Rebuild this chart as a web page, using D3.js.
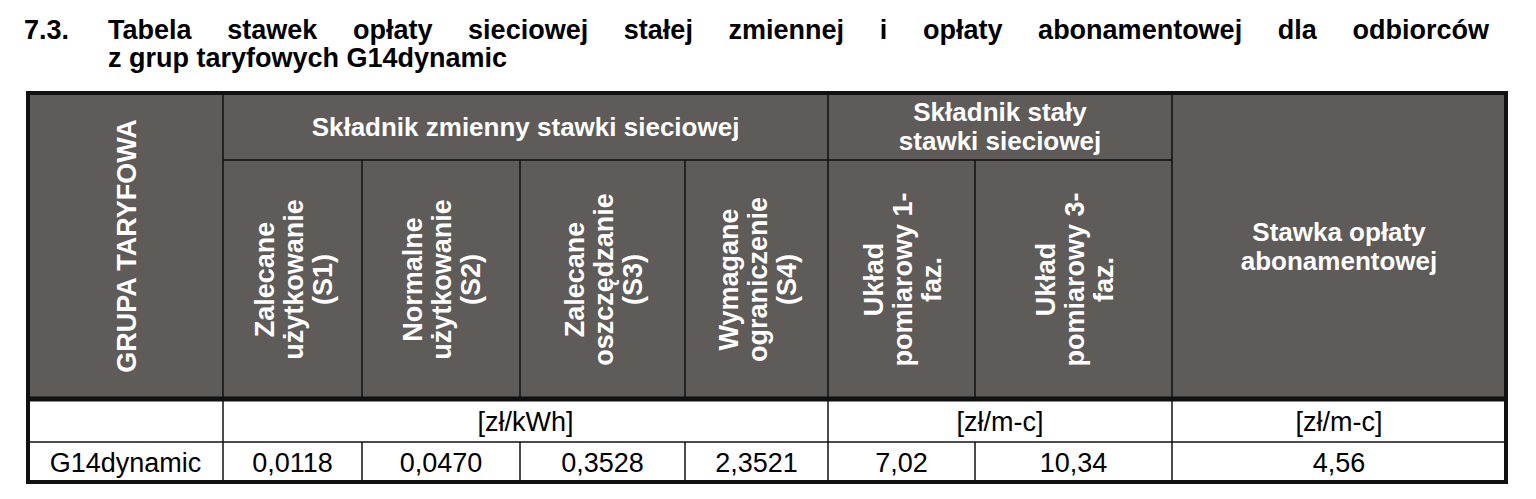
<!DOCTYPE html>
<html><head><meta charset="utf-8">
<script src="https://cdn.jsdelivr.net/npm/d3@7"></script>
<style>body{margin:0;background:#fff}svg{display:block}text{font-family:Arial,"Liberation Sans",sans-serif}</style>
</head><body>
<script>
// data
const titleWords = ["Tabela", "stawek", "opłaty", "sieciowej", "stałej", "zmiennej", "i", "opłaty", "abonamentowej", "dla", "odbiorców"];
const titleLine2 = "z grup taryfowych G14dynamic";
const colEdges = [28, 223, 362, 520, 685, 828, 975, 1172, 1506];
const subHeaders = [
  ["Zalecane", "użytkowanie", "(S1)"],
  ["Normalne", "użytkowanie", "(S2)"],
  ["Zalecane", "oszczędzanie", "(S3)"],
  ["Wymagane", "ograniczenie", "(S4)"],
  ["Układ", "pomiarowy 1-", "faz."],
  ["Układ", "pomiarowy 3-", "faz."]
];
const groupHeaders = [
  {from: 1, to: 5, lines: ["Składnik zmienny stawki sieciowej"]},
  {from: 5, to: 7, lines: ["Składnik stały", "stawki sieciowej"]}
];
const unitCells = [
  {from: 1, to: 5, label: "[zł/kWh]"},
  {from: 5, to: 7, label: "[zł/m-c]"},
  {from: 7, to: 8, label: "[zł/m-c]"}
];
const rowValues = ["G14dynamic", "0,0118", "0,0470", "0,3528", "2,3521", "7,02", "10,34", "4,56"];

const W = 1536, H = 499;
const svg = d3.select("body").append("svg").attr("width", W).attr("height", H);
const y = d3.scaleOrdinal().domain(["top", "groupBottom", "headBottom", "unitBottom", "bottom"])
  .range([93, 160, 399, 442, 482]);
const fill = "#5e5b59";

// title
svg.append("text").attr("x", 24).attr("y", 39).attr("font-size", 27).attr("font-weight", "bold").text("7.3.");
const words = titleWords.map(w => svg.append("text").attr("y", 39).attr("font-size", 27).attr("font-weight", "bold").text(w));
const widths = words.map(w => w.node().getComputedTextLength());
const startX = 108, endX = 1489;
const gap = (endX - startX - d3.sum(widths)) / (words.length - 1);
let cx = startX;
words.forEach((w, i) => { w.attr("x", cx); cx += widths[i] + gap; });
svg.append("text").attr("x", startX).attr("y", 67).attr("font-size", 27).attr("font-weight", "bold").text(titleLine2);

// header fill
svg.append("rect").attr("x", colEdges[0]).attr("y", y("top"))
  .attr("width", colEdges[8] - colEdges[0]).attr("height", y("headBottom") - y("top")).attr("fill", fill);

const line = (x1, y1, x2, y2, w) => svg.append("line").attr("x1", x1).attr("y1", y1).attr("x2", x2).attr("y2", y2)
  .attr("stroke", "#111").attr("stroke-width", w);

// grid
line(colEdges[1], y("top"), colEdges[1], y("bottom"), 1.5);
line(colEdges[5], y("top"), colEdges[5], y("bottom"), 1.5);
line(colEdges[7], y("top"), colEdges[7], y("bottom"), 1.5);
line(colEdges[1], y("groupBottom"), colEdges[7], y("groupBottom"), 1.5);
[2, 3, 4, 6].forEach(i => line(colEdges[i], y("groupBottom"), colEdges[i], y("headBottom"), 1.5));
[2, 3, 4, 6].forEach(i => line(colEdges[i], y("unitBottom"), colEdges[i], y("bottom"), 1.5));
line(colEdges[0], y("headBottom"), colEdges[8], y("headBottom"), 5);
line(colEdges[0], y("unitBottom"), colEdges[8], y("unitBottom"), 1.5);
svg.append("rect").attr("x", colEdges[0]).attr("y", y("top")).attr("width", colEdges[8] - colEdges[0])
  .attr("height", y("bottom") - y("top")).attr("fill", "none").attr("stroke", "#111").attr("stroke-width", 4);

const fs = 27, lh = 29;
// group headers
groupHeaders.forEach(g => {
  const mx = (colEdges[g.from] + colEdges[g.to]) / 2;
  const my = (y("top") + y("groupBottom")) / 2;
  const t = svg.append("text").attr("x", mx).attr("text-anchor", "middle").attr("fill", "#fff")
    .attr("font-weight", "bold").attr("font-size", 26);
  g.lines.forEach((l, i) => t.append("tspan").attr("x", mx)
    .attr("y", my + (i - (g.lines.length - 1) / 2) * lh + 9).text(l));
});

// rotated headers
function rotated(mx, my, lines) {
  const t = svg.append("text").attr("transform", `translate(${mx},${my}) rotate(-90)`)
    .attr("text-anchor", "middle").attr("fill", "#fff").attr("font-weight", "bold").attr("font-size", fs);
  lines.forEach((l, i) => t.append("tspan").attr("x", 0).attr("y", (i - (lines.length - 1) / 2) * lh + 10).text(l));
}
rotated((colEdges[0] + colEdges[1]) / 2, (y("top") + y("headBottom")) / 2, ["GRUPA TARYFOWA"]);
subHeaders.forEach((s, i) => {
  const c = i + 1;
  rotated((colEdges[c] + colEdges[c + 1]) / 2, (y("groupBottom") + y("headBottom")) / 2, s);
});
// subscription header
const sx = (colEdges[7] + colEdges[8]) / 2, sy = (y("top") + y("headBottom")) / 2;
const st = svg.append("text").attr("text-anchor", "middle").attr("fill", "#fff").attr("font-weight", "bold").attr("font-size", 26);
["Stawka opłaty", "abonamentowej"].forEach((l, i) => st.append("tspan").attr("x", sx).attr("y", sy + (i - 0.5) * lh + 9).text(l));

// units
unitCells.forEach(u => svg.append("text").attr("x", (colEdges[u.from] + colEdges[u.to]) / 2)
  .attr("y", (y("headBottom") + y("unitBottom")) / 2 + 10).attr("text-anchor", "middle").attr("font-size", 27).text(u.label));

// data row
svg.selectAll("text.val").data(rowValues).enter().append("text").attr("class", "val")
  .attr("x", (d, i) => (colEdges[i] + colEdges[i + 1]) / 2)
  .attr("y", (y("unitBottom") + y("bottom")) / 2 + 10).attr("text-anchor", "middle").attr("font-size", 27).text(d => d);
</script>
</body></html>
